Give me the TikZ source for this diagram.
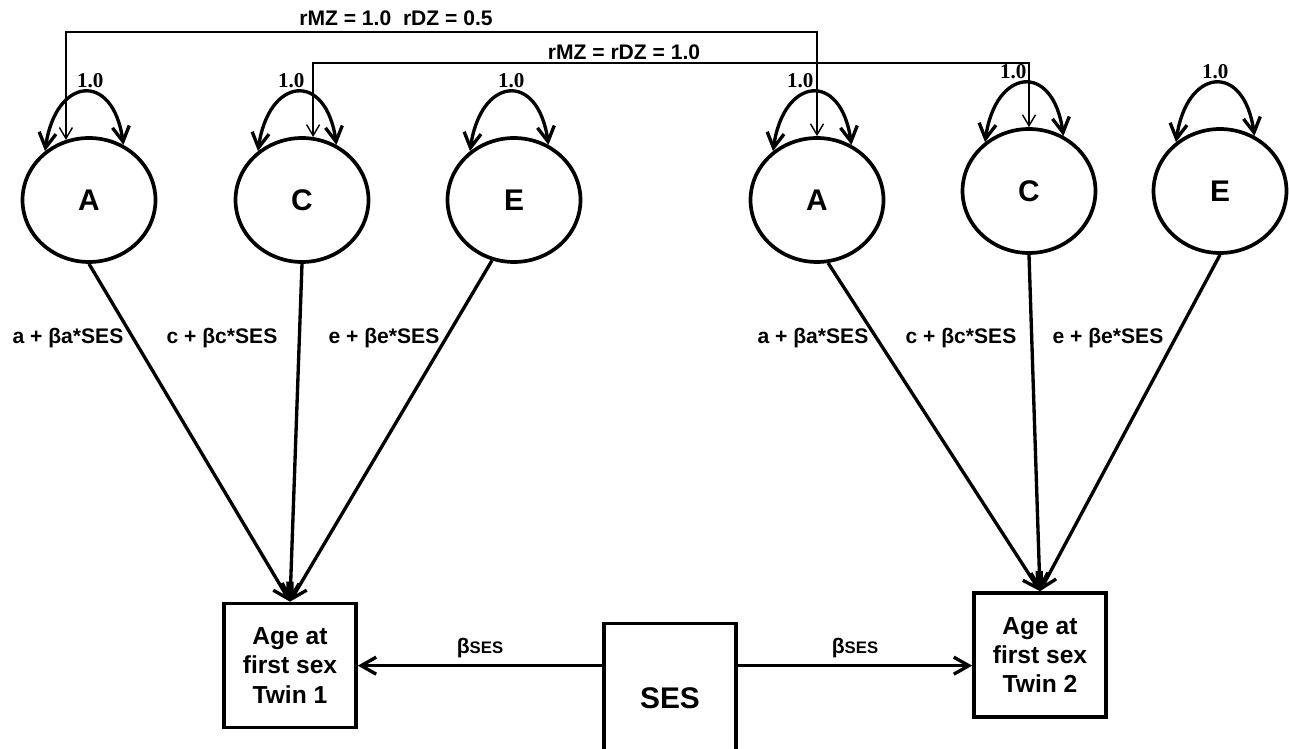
\documentclass[tikz,border=0pt]{standalone}
\usepackage{fontspec}
\setmainfont{Liberation Sans}
\newfontfamily\serifnum{Liberation Serif}
\usetikzlibrary{arrows.meta,positioning,calc,shapes.geometric}

\tikzset{
  latent/.style={draw, ellipse, line width=2.1pt, minimum width=2.66cm, minimum height=2.48cm, inner sep=0pt, font=\fontsize{17}{20}\selectfont\bfseries},
  observed/.style={draw, rectangle, line width=2.1pt, minimum width=2.64cm, minimum height=2.48cm, inner sep=0pt, align=center, font=\fontsize{14}{16.7}\selectfont\bfseries},
  link/.style={line width=1.9pt, -{Straight Barb[length=3mm,width=3.4mm]}},
  varloop/.style={line width=1.9pt, {Straight Barb[length=3mm,width=3.4mm]}-{Straight Barb[length=3mm,width=3.4mm]}, looseness=2.45},
  corr/.style={line width=0.8pt, {Straight Barb[length=2.2mm,width=2.6mm]}-{Straight Barb[length=2.2mm,width=2.6mm]}},
  coef/.style={font=\fontsize{12}{14}\selectfont\bfseries},
  varlab/.style={font=\serifnum\bfseries\fontsize{12}{14}\selectfont, inner sep=1.5pt},
}

\begin{document}
\begin{tikzpicture}[x=0.02cm, y=0.02cm]
\useasboundingbox (0,0) rectangle (1289,748);
\clip (0,0) rectangle (1289,748);

% Twin 1 factors
\node[latent] (lA) at (89,548) {A};
\node[latent] (lC) at (302,548) {C};
\node[latent] (lE) at (514,548) {E};

% Twin 2 factors
\node[latent] (rA) at (817,548) {A};
\node[latent] (rC) at (1029,557) {C};
\node[latent] (rE) at (1220,557) {E};

% Observed
\node[observed] (tw1) at (290,82.5) {Age at\\first sex\\Twin 1};
\node[observed] (tw2) at (1040,93) {Age at\\first sex\\Twin 2};
\node[observed, minimum height=2.98cm, font=\fontsize{17}{20}\selectfont\bfseries] (ses) at (670,50) {SES};

% Correlations between twins
\coordinate (top1) at (0,716);
\coordinate (top2) at (0,685);
\draw[corr] (lA.111) |- (rA.north |- top1) -- (rA.north);
\draw[corr] (lC.80) |- (rC.north |- top2) -- (rC.north);
\node[coef] (rr1) at (396,730) {rMZ = 1.0\ \ rDZ = 0.5};
\node[coef] (rr2) at (624,696) {rMZ = rDZ = 1.0};

% Variances
\foreach \n/\s in {lA/6, lC/-6, lE/2, rA/-12, rC/-11, rE/0}
  \draw[varloop] (\n.132) to[out=82, in=98] node[varlab, above, xshift=\s*0.02cm] {1.0} (\n.58);

% Paths
\draw[link] (lA.south) -- (tw1.north);
\draw[link] (lC.south) -- (tw1.north);
\draw[link] (lE.250) -- (tw1.north);
\draw[link] (rA.280) -- (tw2.north);
\draw[link] (rC.south) -- (tw2.north);
\draw[link] (rE.south) -- (tw2.north);

\node[coef] (pa1) at (68,410) {a + βa*SES};
\node[coef] (pc1) at (222,410) {c + βc*SES};
\node[coef] (pe1) at (384,410) {e + βe*SES};
\node[coef] (pa2) at (813,410) {a + βa*SES};
\node[coef] (pc2) at (961,410) {c + βc*SES};
\node[coef] (pe2) at (1108,410) {e + βe*SES};

% SES effects
\coordinate (sesL) at ([yshift=-0.88cm]ses.north west);
\coordinate (sesR) at ([yshift=-0.88cm]ses.north east);
\draw[link] (sesL) -- (sesL -| tw1.east) node[coef, midway, above] {β{\fontsize{9.5}{11}\selectfont SES}};
\draw[link] (sesR) -- (sesR -| tw2.west) node[coef, midway, above] {β{\fontsize{9.5}{11}\selectfont SES}};
\end{tikzpicture}
\end{document}
